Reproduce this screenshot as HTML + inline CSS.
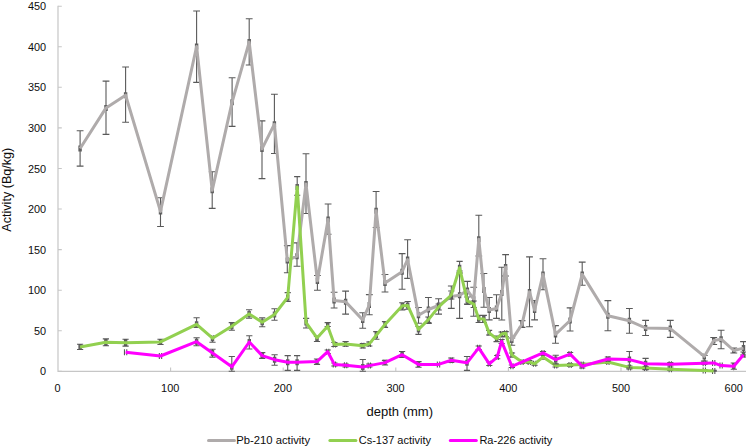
<!DOCTYPE html>
<html><head><meta charset="utf-8"><title>Activity vs depth</title>
<style>
html,body{margin:0;padding:0;background:#fff;}
body{width:746px;height:448px;overflow:hidden;}
svg{display:block;}
text{font-family:"Liberation Sans",sans-serif;fill:#0d0d0d;}
.lab text{font-size:10.9px;}
.leg text{font-size:11.4px;}
</style></head><body>
<svg width="746" height="448" viewBox="0 0 746 448">
<rect width="746" height="448" fill="#ffffff"/>
<path d="M58.0 5.7V371.3H746" fill="none" stroke="#c6c6c6" stroke-width="1.2"/>
<path d="M58.0 371.3H61.8M58.0 330.7H61.8M58.0 290.2H61.8M58.0 249.6H61.8M58.0 209.0H61.8M58.0 168.5H61.8M58.0 127.9H61.8M58.0 87.3H61.8M58.0 46.8H61.8M58.0 6.2H61.8M170.6 371.3V367.5M283.2 371.3V367.5M395.8 371.3V367.5M508.4 371.3V367.5M621.0 371.3V367.5M733.6 371.3V367.5" fill="none" stroke="#c6c6c6" stroke-width="1.1"/>
<g class="lab"><text x="46.1" y="375.4" text-anchor="end">0</text><text x="46.1" y="334.8" text-anchor="end">50</text><text x="46.1" y="294.3" text-anchor="end">100</text><text x="46.1" y="253.7" text-anchor="end">150</text><text x="46.1" y="213.1" text-anchor="end">200</text><text x="46.1" y="172.6" text-anchor="end">250</text><text x="46.1" y="132.0" text-anchor="end">300</text><text x="46.1" y="91.4" text-anchor="end">350</text><text x="46.1" y="50.9" text-anchor="end">400</text><text x="46.1" y="10.3" text-anchor="end">450</text><text x="57.5" y="391.8" text-anchor="middle">0</text><text x="170.2" y="391.8" text-anchor="middle">100</text><text x="282.9" y="391.8" text-anchor="middle">200</text><text x="395.6" y="391.8" text-anchor="middle">300</text><text x="508.3" y="391.8" text-anchor="middle">400</text><text x="621.0" y="391.8" text-anchor="middle">500</text><text x="733.7" y="391.8" text-anchor="middle">600</text></g>
<text transform="translate(11.3,189.7) rotate(-90)" text-anchor="middle" font-size="12.6">Activity (Bq/kg)</text>
<text x="399.8" y="415.8" text-anchor="middle" font-size="13">depth (mm)</text>
<g id="pb"><path d="M80.1 130.8V166.1M76.7 130.8H83.5M76.7 166.1H83.5M78.95 145.5V151.5M81.25 145.5V151.5M106.0 81.1V134.4M102.6 81.1H109.4M102.6 134.4H109.4M104.85 104.9V110.9M107.15 104.9V110.9M125.6 67.0V122.3M122.2 67.0H129.0M122.2 122.3H129.0M124.45 92.2V98.2M126.75 92.2V98.2M160.5 197.7V226.5M157.1 197.7H163.9M157.1 226.5H163.9M159.35 208.4V214.4M161.65 208.4V214.4M196.6 11.0V82.4M193.2 11.0H200.0M193.2 82.4H200.0M195.45 43.5V49.5M197.75 43.5V49.5M212.2 171.8V208.4M208.8 171.8H215.6M208.8 208.4H215.6M211.05 187.3V193.3M213.35 187.3V193.3M232.1 77.7V126.4M228.7 77.7H235.5M228.7 126.4H235.5M230.95 99.2V105.2M233.25 99.2V105.2M249.2 18.7V65.0M245.8 18.7H252.6M245.8 65.0H252.6M248.05 39.1V45.1M250.35 39.1V45.1M262.0 120.9V178.6M258.6 120.9H265.4M258.6 178.6H265.4M260.85 145.9V151.9M263.15 145.9V151.9M274.4 94.2V153.5M271.0 94.2H277.8M271.0 153.5H277.8M273.25 121.2V127.2M275.55 121.2V127.2M287.3 245.6V272.7M283.9 245.6H290.7M283.9 272.7H290.7M286.15 257.4V263.4M288.45 257.4V263.4M297.0 242.9V266.2M293.6 242.9H300.4M293.6 266.2H300.4M295.85 253.2V259.2M298.15 253.2V259.2M306.0 153.7V213.5M302.6 153.7H309.4M302.6 213.5H309.4M304.85 180.9V186.9M307.15 180.9V186.9M317.4 275.5V290.2M314.0 275.5H320.8M314.0 290.2H320.8M316.25 277.9V283.9M318.55 277.9V283.9M328.1 204.0V234.2M324.7 204.0H331.5M324.7 234.2H331.5M326.95 216.4V222.4M329.25 216.4V222.4M334.1 292.3V308.0M330.7 292.3H337.5M330.7 308.0H337.5M332.95 297.4V303.4M335.25 297.4V303.4M345.6 291.1V314.1M342.2 291.1H349.0M342.2 314.1H349.0M344.45 298.7V304.7M346.75 298.7V304.7M362.7 312.8V328.3M359.3 312.8H366.1M359.3 328.3H366.1M361.55 316.9V322.9M363.85 316.9V322.9M369.3 294.6V314.7M365.9 294.6H372.7M365.9 314.7H372.7M368.15 302.0V308.0M370.45 302.0V308.0M376.1 191.5V227.5M372.7 191.5H379.5M372.7 227.5H379.5M374.95 207.7V213.7M377.25 207.7V213.7M385.0 274.5V292.0M381.6 274.5H388.4M381.6 292.0H388.4M383.85 279.9V285.9M386.15 279.9V285.9M402.1 253.6V289.2M398.7 253.6H405.5M398.7 289.2H405.5M400.95 268.7V274.7M403.25 268.7V274.7M407.6 239.7V278.4M404.2 239.7H411.0M404.2 278.4H411.0M406.45 256.5V262.5M408.75 256.5V262.5M418.5 307.5V323.2M415.1 307.5H421.9M415.1 323.2H421.9M417.35 312.3V318.3M419.65 312.3V318.3M428.4 297.5V323.5M425.0 297.5H431.8M425.0 323.5H431.8M427.25 306.5V312.5M429.55 306.5V312.5M438.6 298.8V314.1M435.2 298.8H442.0M435.2 314.1H442.0M437.45 302.5V308.5M439.75 302.5V308.5M451.3 286.0V308.4M447.9 286.0H454.7M447.9 308.4H454.7M450.15 293.5V299.5M452.45 293.5V299.5M459.6 273.0V318.4M456.2 273.0H463.0M456.2 318.4H463.0M458.45 292.3V298.3M460.75 292.3V298.3M467.4 281.4V304.0M464.0 281.4H470.8M464.0 304.0H470.8M466.25 287.5V293.5M468.55 287.5V293.5M473.7 287.2V316.3M470.3 287.2H477.1M470.3 316.3H477.1M472.55 296.2V302.2M474.85 296.2V302.2M478.8 215.2V256.0M475.4 215.2H482.2M475.4 256.0H482.2M477.65 236.2V242.2M479.95 236.2V242.2M483.9 273.5V307.2M480.5 273.5H487.3M480.5 307.2H487.3M482.75 287.0V293.0M485.05 287.0V293.0M489.2 297.5V319.9M485.8 297.5H492.6M485.8 319.9H492.6M488.05 307.0V313.0M490.35 307.0V313.0M496.5 294.8V318.4M493.1 294.8H499.9M493.1 318.4H499.9M495.35 305.5V311.5M497.65 305.5V311.5M501.8 267.2V320.0M498.4 267.2H505.2M498.4 320.0H505.2M500.65 290.0V296.0M502.95 290.0V296.0M505.6 254.6V276.0M502.2 254.6H509.0M502.2 276.0H509.0M504.45 264.0V270.0M506.75 264.0V270.0M511.8 338.0V345.2M508.4 338.0H515.2M508.4 345.2H515.2M510.65 336.9V342.9M512.95 336.9V342.9M522.0 320.6V327.4M518.6 320.6H525.4M518.6 327.4H525.4M520.85 321.2V327.2M523.15 321.2V327.2M529.5 256.9V326.8M526.1 256.9H532.9M526.1 326.8H532.9M528.35 288.9V294.9M530.65 288.9V294.9M534.6 300.5V319.9M531.2 300.5H538.0M531.2 319.9H538.0M533.45 307.1V313.1M535.75 307.1V313.1M543.0 258.7V289.8M539.6 258.7H546.4M539.6 289.8H546.4M541.85 271.4V277.4M544.15 271.4V277.4M555.5 325.6V343.3M552.1 325.6H558.9M552.1 343.3H558.9M554.35 331.4V337.4M556.65 331.4V337.4M570.1 307.9V331.0M566.7 307.9H573.5M566.7 331.0H573.5M568.95 317.5V323.5M571.25 317.5V323.5M582.2 262.1V285.3M578.8 262.1H585.6M578.8 285.3H585.6M581.05 271.4V277.4M583.35 271.4V277.4M607.9 300.6V330.8M604.5 300.6H611.3M604.5 330.8H611.3M606.75 312.7V318.7M609.05 312.7V318.7M629.4 308.5V333.2M626.0 308.5H632.8M626.0 333.2H632.8M628.25 317.8V323.8M630.55 317.8V323.8M645.6 320.4V335.5M642.2 320.4H649.0M642.2 335.5H649.0M644.45 325.0V331.0M646.75 325.0V331.0M670.3 320.4V337.4M666.9 320.4H673.7M666.9 337.4H673.7M669.15 325.6V331.6M671.45 325.6V331.6M704.3 355.5V361.0M700.9 355.5H707.7M700.9 361.0H707.7M703.15 353.4V359.4M705.45 353.4V359.4M713.7 337.5V344.5M710.3 337.5H717.1M710.3 344.5H717.1M712.55 337.5V343.5M714.85 337.5V343.5M721.1 330.2V348.7M717.7 330.2H724.5M717.7 348.7H724.5M719.95 336.2V342.2M722.25 336.2V342.2M733.8 348.0V353.0M730.4 348.0H737.2M730.4 353.0H737.2M732.65 347.5V353.5M734.95 347.5V353.5M743.5 341.6V355.0M740.1 341.6H746.9M740.1 355.0H746.9M742.35 345.1V351.1M744.65 345.1V351.1" fill="none" stroke="#595959" stroke-width="1.1"/><polyline points="80.1,148.5 106.0,107.9 125.6,95.2 160.5,211.4 196.6,46.5 212.2,190.3 232.1,102.2 249.2,42.1 262.0,148.9 274.4,124.2 287.3,260.4 297.0,256.2 306.0,183.9 317.4,280.9 328.1,219.4 334.1,300.4 345.6,301.7 362.7,319.9 369.3,305.0 376.1,210.7 385.0,282.9 402.1,271.7 407.6,259.5 418.5,315.3 428.4,309.5 438.6,305.5 451.3,296.5 459.6,295.3 467.4,290.5 473.7,299.2 478.8,239.2 483.9,290.0 489.2,310.0 496.5,308.5 501.8,293.0 505.6,267.0 511.8,339.9 522.0,324.2 529.5,291.9 534.6,310.1 543.0,274.4 555.5,334.4 570.1,320.5 582.2,274.4 607.9,315.7 629.4,320.8 645.6,328.0 670.3,328.6 704.3,356.4 713.7,340.5 721.1,339.2 733.8,350.5 743.5,348.1" fill="none" stroke="#afabab" stroke-width="3" stroke-linejoin="round" stroke-linecap="butt"/></g>
<g id="cs"><path d="M80.1 344.3V349.5M77.0 344.3H83.2M77.0 349.5H83.2M78.95 343.9V349.9M81.25 343.9V349.9M105.9 338.9V345.7M102.8 338.9H109.0M102.8 345.7H109.0M104.75 339.3V345.3M107.05 339.3V345.3M125.6 339.3V346.1M122.5 339.3H128.7M122.5 346.1H128.7M124.45 339.7V345.7M126.75 339.7V345.7M160.5 339.3V344.5M157.4 339.3H163.6M157.4 344.5H163.6M159.35 338.9V344.9M161.65 338.9V344.9M196.6 317.8V327.4M193.5 317.8H199.7M193.5 327.4H199.7M195.45 321.3V327.3M197.75 321.3V327.3M212.5 336.2V342.2M209.4 336.2H215.6M209.4 342.2H215.6M211.35 335.2V341.2M213.65 335.2V341.2M231.8 322.6V330.2M228.7 322.6H234.9M228.7 330.2H234.9M230.65 323.3V329.3M232.95 323.3V329.3M249.1 309.7V318.1M246.0 309.7H252.2M246.0 318.1H252.2M247.95 310.9V316.9M250.25 310.9V316.9M262.2 317.9V326.8M259.1 317.9H265.3M259.1 326.8H265.3M261.05 319.3V325.3M263.35 319.3V325.3M274.5 308.7V320.3M271.4 308.7H277.6M271.4 320.3H277.6M273.35 311.5V317.5M275.65 311.5V317.5M287.7 292.6V301.4M284.6 292.6H290.8M284.6 301.4H290.8M286.55 294.4V300.4M288.85 294.4V300.4M297.2 176.6V195.3M294.1 176.6H300.3M294.1 195.3H300.3M296.05 183.9V189.9M298.35 183.9V189.9M306.1 318.4V328.0M303.0 318.4H309.2M303.0 328.0H309.2M304.95 319.6V325.6M307.25 319.6V325.6M317.0 336.5V341.5M313.9 336.5H320.1M313.9 341.5H320.1M315.85 334.9V340.9M318.15 334.9V340.9M327.7 322.6V326.5M324.6 322.6H330.8M324.6 326.5H330.8M326.55 323.2V329.2M328.85 323.2V329.2M334.4 342.5V346.5M331.3 342.5H337.5M331.3 346.5H337.5M333.25 341.5V347.5M335.55 341.5V347.5M345.6 341.5V346.3M342.5 341.5H348.7M342.5 346.3H348.7M344.45 340.9V346.9M346.75 340.9V346.9M362.8 343.5V348.0M359.7 343.5H365.9M359.7 348.0H365.9M361.65 342.7V348.7M363.95 342.7V348.7M369.3 342.0V346.0M366.2 342.0H372.4M366.2 346.0H372.4M368.15 340.9V346.9M370.45 340.9V346.9M376.3 331.6V339.2M373.2 331.6H379.4M373.2 339.2H379.4M375.15 332.3V338.3M377.45 332.3V338.3M385.0 321.6V327.4M381.9 321.6H388.1M381.9 327.4H388.1M383.85 321.4V327.4M386.15 321.4V327.4M402.3 302.7V309.9M399.2 302.7H405.4M399.2 309.9H405.4M401.15 302.7V308.7M403.45 302.7V308.7M407.7 301.5V309.3M404.6 301.5H410.8M404.6 309.3H410.8M406.55 302.4V308.4M408.85 302.4V308.4M418.5 326.5V334.4M415.4 326.5H421.6M415.4 334.4H421.6M417.35 326.4V332.4M419.65 326.4V332.4M428.4 317.0V322.5M425.3 317.0H431.5M425.3 322.5H431.5M427.25 316.6V322.6M429.55 316.6V322.6M438.7 304.0V310.0M435.6 304.0H441.8M435.6 310.0H441.8M437.55 303.9V309.9M439.85 303.9V309.9M451.3 291.0V299.0M448.2 291.0H454.4M448.2 299.0H454.4M450.15 292.0V298.0M452.45 292.0V298.0M459.6 261.4V271.0M456.5 261.4H462.7M456.5 271.0H462.7M458.45 264.8V270.8M460.75 264.8V270.8M467.3 297.0V304.5M464.2 297.0H470.4M464.2 304.5H470.4M466.15 297.8V303.8M468.45 297.8V303.8M473.7 301.0V307.5M470.6 301.0H476.8M470.6 307.5H476.8M472.55 301.1V307.1M474.85 301.1V307.1M478.7 315.4V322.5M475.6 315.4H481.8M475.6 322.5H481.8M477.55 315.7V321.7M479.85 315.7V321.7M483.8 315.4V322.5M480.7 315.4H486.9M480.7 322.5H486.9M482.65 315.9V321.9M484.95 315.9V321.9M489.1 330.4V335.0M486.0 330.4H492.2M486.0 335.0H492.2M487.95 329.9V335.9M490.25 329.9V335.9M496.6 336.0V341.6M493.5 336.0H499.7M493.5 341.6H499.7M495.45 335.7V341.7M497.75 335.7V341.7M501.6 332.0V337.0M498.5 332.0H504.7M498.5 337.0H504.7M500.45 331.0V337.0M502.75 331.0V337.0M505.7 331.6V336.6M502.6 331.6H508.8M502.6 336.6H508.8M504.55 330.2V336.2M506.85 330.2V336.2M512.0 353.0V357.0M508.9 353.0H515.1M508.9 357.0H515.1M510.85 352.0V358.0M513.15 352.0V358.0M522.0 360.5V363.5M518.9 360.5H525.1M518.9 363.5H525.1M520.85 359.0V365.0M523.15 359.0V365.0M529.3 360.5V363.5M526.2 360.5H532.4M526.2 363.5H532.4M528.15 359.0V365.0M530.45 359.0V365.0M534.6 362.3V365.3M531.5 362.3H537.7M531.5 365.3H537.7M533.45 360.8V366.8M535.75 360.8V366.8M543.0 355.0V359.0M539.9 355.0H546.1M539.9 359.0H546.1M541.85 354.1V360.1M544.15 354.1V360.1M555.6 364.0V367.0M552.5 364.0H558.7M552.5 367.0H558.7M554.45 362.6V368.6M556.75 362.6V368.6M570.1 363.5V366.5M567.0 363.5H573.2M567.0 366.5H573.2M568.95 362.0V368.0M571.25 362.0V368.0M582.2 363.0V366.0M579.1 363.0H585.3M579.1 366.0H585.3M581.05 361.4V367.4M583.35 361.4V367.4M607.9 360.5V363.5M604.8 360.5H611.0M604.8 363.5H611.0M606.75 359.0V365.0M609.05 359.0V365.0M629.4 366.0V369.0M626.3 366.0H632.5M626.3 369.0H632.5M628.25 364.4V370.4M630.55 364.4V370.4M645.6 366.5V369.5M642.5 366.5H648.7M642.5 369.5H648.7M644.45 365.0V371.0M646.75 365.0V371.0M670.3 368.0V370.5M667.2 368.0H673.4M667.2 370.5H673.4M669.15 366.2V372.2M671.45 366.2V372.2M704.3 369.5V371.3M701.2 369.5H707.4M701.2 371.3H707.4M703.15 367.4V373.4M705.45 367.4V373.4M713.7 370.3V371.3M710.6 370.3H716.8M710.6 371.3H716.8M712.55 368.0V374.0M714.85 368.0V374.0" fill="none" stroke="#595959" stroke-width="1.1"/><polyline points="80.1,346.9 105.9,342.3 125.6,342.7 160.5,341.9 196.6,324.3 212.5,338.2 231.8,326.3 249.1,313.9 262.2,322.3 274.5,314.5 287.7,297.4 297.2,186.9 306.1,322.6 317.0,337.9 327.7,326.2 334.4,344.5 345.6,343.9 362.8,345.7 369.3,343.9 376.3,335.3 385.0,324.4 402.3,305.7 407.7,305.4 418.5,329.4 428.4,319.6 438.7,306.9 451.3,295.0 459.6,267.8 467.3,300.8 473.7,304.1 478.7,318.7 483.8,318.9 489.1,332.9 496.6,338.7 501.6,334.0 505.7,333.2 512.0,355.0 522.0,362.0 529.3,362.0 534.6,363.8 543.0,357.1 555.6,365.6 570.1,365.0 582.2,364.4 607.9,362.0 629.4,367.4 645.6,368.0 670.3,369.2 704.3,370.4 713.7,371.0" fill="none" stroke="#92d050" stroke-width="3" stroke-linejoin="round" stroke-linecap="butt"/></g>
<g id="ra"><path d="M124.45 349.3V355.3M126.75 349.3V355.3M159.35 353.0V359.0M161.65 353.0V359.0M196.6 337.7V345.8M193.5 337.7H199.7M193.5 345.8H199.7M195.45 338.7V344.7M197.75 338.7V344.7M212.5 349.3V357.1M209.4 349.3H215.6M209.4 357.1H215.6M211.35 349.9V355.9M213.65 349.9V355.9M231.8 356.5V371.3M228.7 356.5H234.9M228.7 371.3H234.9M230.65 363.8V369.8M232.95 363.8V369.8M249.3 335.7V349.0M246.2 335.7H252.4M246.2 349.0H252.4M248.15 339.0V345.0M250.45 339.0V345.0M262.2 352.6V358.4M259.1 352.6H265.3M259.1 358.4H265.3M261.05 352.6V358.6M263.35 352.6V358.6M274.6 354.7V365.2M271.5 354.7H277.7M271.5 365.2H277.7M273.45 356.7V362.7M275.75 356.7V362.7M287.7 355.6V370.4M284.6 355.6H290.8M284.6 370.4H290.8M286.55 359.3V365.3M288.85 359.3V365.3M297.1 355.6V370.4M294.0 355.6H300.2M294.0 370.4H300.2M295.95 359.3V365.3M298.25 359.3V365.3M317.0 359.0V364.4M313.9 359.0H320.1M313.9 364.4H320.1M315.85 358.6V364.6M318.15 358.6V364.6M327.7 350.0V353.5M324.6 350.0H330.8M324.6 353.5H330.8M326.55 348.7V354.7M328.85 348.7V354.7M334.4 363.0V366.0M331.3 363.0H337.5M331.3 366.0H337.5M333.25 361.4V367.4M335.55 361.4V367.4M345.6 364.0V367.0M342.5 364.0H348.7M342.5 367.0H348.7M344.45 362.3V368.3M346.75 362.3V368.3M362.8 359.5V371.3M359.7 359.5H365.9M359.7 371.3H365.9M361.65 364.0V370.0M363.95 364.0V370.0M369.3 364.0V367.0M366.2 364.0H372.4M366.2 367.0H372.4M368.15 362.6V368.6M370.45 362.6V368.6M385.0 360.4V365.0M381.9 360.4H388.1M381.9 365.0H388.1M383.85 359.6V365.6M386.15 359.6V365.6M402.1 351.5V357.5M399.0 351.5H405.2M399.0 357.5H405.2M400.95 351.7V357.7M403.25 351.7V357.7M418.5 361.6V367.2M415.4 361.6H421.6M415.4 367.2H421.6M417.35 361.4V367.4M419.65 361.4V367.4M437.35 361.4V367.4M439.65 361.4V367.4M451.3 358.0V362.4M448.2 358.0H454.4M448.2 362.4H454.4M450.15 357.2V363.2M452.45 357.2V363.2M467.0 356.5V370.4M463.9 356.5H470.1M463.9 370.4H470.1M465.85 359.8V365.8M468.15 359.8V365.8M478.7 346.0V349.5M475.6 346.0H481.8M475.6 349.5H481.8M477.55 344.8V350.8M479.85 344.8V350.8M489.3 362.0V365.5M486.2 362.0H492.4M486.2 365.5H492.4M488.15 360.8V366.8M490.45 360.8V366.8M497.2 355.5V358.7M494.1 355.5H500.3M494.1 358.7H500.3M496.05 354.1V360.1M498.35 354.1V360.1M501.6 339.5V343.5M498.5 339.5H504.7M498.5 343.5H504.7M500.45 338.4V344.4M502.75 338.4V344.4M511.9 365.0V367.5M508.8 365.0H515.0M508.8 367.5H515.0M510.75 363.3V369.3M513.05 363.3V369.3M543.0 351.5V354.5M539.9 351.5H546.1M539.9 354.5H546.1M541.85 349.9V355.9M544.15 349.9V355.9M555.7 355.3V364.0M552.6 355.3H558.8M552.6 364.0H558.8M554.55 356.6V362.6M556.85 356.6V362.6M570.1 352.5V355.7M567.0 352.5H573.2M567.0 355.7H573.2M568.95 351.1V357.1M571.25 351.1V357.1M582.2 364.5V368.0M579.1 364.5H585.3M579.1 368.0H585.3M581.05 363.2V369.2M583.35 363.2V369.2M607.9 357.0V361.0M604.8 357.0H611.0M604.8 361.0H611.0M606.75 356.0V362.0M609.05 356.0V362.0M629.4 351.5V368.0M626.3 351.5H632.5M626.3 368.0H632.5M628.25 356.6V362.6M630.55 356.6V362.6M645.6 358.4V369.8M642.5 358.4H648.7M642.5 369.8H648.7M644.45 360.8V366.8M646.75 360.8V366.8M670.3 362.5V366.0M667.2 362.5H673.4M667.2 366.0H673.4M669.15 361.2V367.2M671.45 361.2V367.2M704.3 362.0V364.5M701.2 362.0H707.4M701.2 364.5H707.4M703.15 360.2V366.2M705.45 360.2V366.2M712.55 359.9V365.9M714.85 359.9V365.9M719.95 362.6V368.6M722.25 362.6V368.6M733.8 363.0V369.3M730.7 363.0H736.9M730.7 369.3H736.9M732.65 363.2V369.2M734.95 363.2V369.2M743.5 352.0V357.0M740.4 352.0H746.6M740.4 357.0H746.6M742.35 351.7V357.7M744.65 351.7V357.7" fill="none" stroke="#595959" stroke-width="1.1"/><polyline points="125.6,352.3 160.5,356.0 196.6,341.7 212.5,352.9 231.8,366.8 249.3,342.0 262.2,355.6 274.6,359.7 287.7,362.3 297.1,362.3 317.0,361.6 327.7,351.7 334.4,364.4 345.6,365.3 362.8,367.0 369.3,365.6 385.0,362.6 402.1,354.7 418.5,364.4 438.5,364.4 451.3,360.2 467.0,362.8 478.7,347.8 489.3,363.8 497.2,357.1 501.6,341.4 511.9,366.3 543.0,352.9 555.7,359.6 570.1,354.1 582.2,366.2 607.9,359.0 629.4,359.6 645.6,363.8 670.3,364.2 704.3,363.2 713.7,362.9 721.1,365.6 733.8,366.2 743.5,354.7" fill="none" stroke="#ff00ff" stroke-width="3" stroke-linejoin="round" stroke-linecap="butt"/></g>
<g class="leg">
<path d="M208.5 440.5H234.5" stroke="#afabab" stroke-width="3" stroke-linecap="round"/>
<text x="236.2" y="443.7" textLength="73.9" lengthAdjust="spacingAndGlyphs">Pb-210 activity</text>
<path d="M329.9 440.5H355.9" stroke="#92d050" stroke-width="3" stroke-linecap="round"/>
<text x="358.7" y="443.7" textLength="72.4" lengthAdjust="spacingAndGlyphs">Cs-137 activity</text>
<path d="M450.3 440.5H476.3" stroke="#ff00ff" stroke-width="3" stroke-linecap="round"/>
<text x="479.4" y="443.7" textLength="73" lengthAdjust="spacingAndGlyphs">Ra-226 activity</text>
</g>
</svg>
</body></html>
